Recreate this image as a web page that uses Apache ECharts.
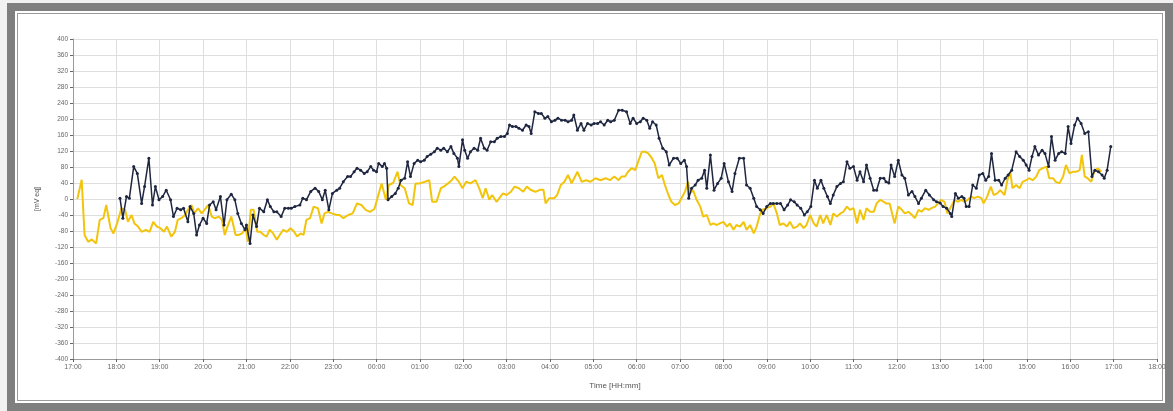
<!DOCTYPE html>
<html>
<head>
<meta charset="utf-8">
<script src="https://cdn.jsdelivr.net/npm/echarts@6/dist/echarts.min.js"></script>
<style>
  html, body { margin: 0; padding: 0; width: 1173px; height: 411px; overflow: hidden; background: #f1f1f1; }
  #frame { position: absolute; left: 7px; top: 3px; width: 1150px; height: 392px; border: 8px solid #7f7f7f; background: #fff; }
  #inner { position: absolute; left: 2px; top: 2px; right: 2px; bottom: 2px; border: 1px solid #9a9a9a; }
  #chart { position: absolute; left: 0; top: 0; width: 1173px; height: 411px; }
</style>
</head>
<body>
<div id="frame"><div id="inner"></div></div>
<div id="chart"></div>
<script>
// Time axis: minutes after 17:00 (day 1) up to 18:00 (day 2)
const xMin = 0, xMax = 1500, xStep = 60, startHour = 17;
const yMin = -400, yMax = 400, yStep = 40;
const xAxisName = 'Time [HH:mm]';
const yAxisName = '[mV eq]';

// Black (dark navy) series: minutes after 17:00, values
const blackT = [65,69,74,78,84,89,95,99,105,110,114,119,124,129,135,139,144,149,153,159,162,167,171,175,180,185,189,194,198,204,209,213,219,224,228,233,238,240,245,249,254,258,264,269,273,278,282,288,293,298,302,307,314,318,323,329,335,340,345,349,354,359,365,369,374,
  380,384,389,393,398,403,407,412,416,420,423,428,431,434,436,441,446,450,454,459,463,467,472,477,481,486,490,495,500,504,509,513,518,523,527,532,534,539,542,546,550,555,560,564,569,573,578,583,587,592,597,601,604,608,613,617,622,627,631,634,639,644,648,653,657,662,667,671,676,681,685,690,693,698,703,707,712,717,721,726,730,735,740,744,749,
  755,760,766,771,775,780,785,789,794,798,802,807,811,816,821,825,831,836,841,846,849,852,856,861,865,870,874,877,882,887,892,897,901,907,912,916,922,928,932,937,942,946,951,955,960,965,969,974,979,984,989,993,998,1002,1007,1012,1016,1021,1026,1030,1035,1039,1044,1048,1052,1057,1062,1066,1071,1075,1080,1085,1089,1094,1098,1103,1108,1112,1117,1122,
  1125,1129,1132,1137,1142,1147,1151,1156,1161,1165,1170,1174,1180,1185,1191,1195,1200,1204,1209,1214,1216,1221,1225,1230,1233,1236,1240,1245,1250,1254,1259,1263,1267,1271,1276,1281,1285,1290,1294,1299,1305,1310,1315,1319,1323,1327,1331,1336,1341,1345,1350,1354,1359,1364,1368,1373,1377,1381,1386,1390,1395,1400,1405,1410,1414,1419,1424,1427,1431,1436];
const blackV = [2,-48,6,2,81,64,-11,31,102,-15,31,-2,6,22,-2,-44,-23,-27,-23,-57,-19,-36,-90,-65,-48,-61,-15,-7,-27,6,-65,-2,12,-2,-36,-61,-77,-65,-111,-40,-69,-23,-32,-2,-19,-32,-32,-44,-23,-23,-23,-19,-15,2,-2,19,27,19,-2,22,-27,14,22,27,43,
  56,56,68,77,72,64,68,81,72,68,89,81,89,77,-2,6,14,27,47,52,93,56,89,97,93,97,106,112,118,127,122,127,118,131,114,102,81,148,122,102,118,127,122,152,127,122,143,143,152,156,156,164,185,181,181,177,172,185,181,164,218,214,214,202,206,193,197,202,197,197,193,197,210,172,189,172,189,185,189,189,193,185,197,193,197,
  222,222,218,189,202,189,193,202,197,177,193,185,152,127,118,85,102,102,89,97,81,2,27,35,47,52,72,27,110,22,39,52,89,43,19,64,102,102,35,27,2,-19,-27,-36,-19,-11,-11,-11,-11,-27,-15,-2,-7,-15,-23,-40,-32,-19,47,27,47,27,6,-11,10,31,39,43,93,77,81,47,68,43,85,52,22,22,52,52,
  43,40,85,56,97,60,52,10,19,6,-11,2,22,10,-2,-7,-10,-19,-23,-36,-44,14,2,6,2,-19,-19,35,27,60,64,47,56,114,47,47,35,52,60,72,118,106,97,85,72,106,131,110,122,114,81,156,97,114,118,114,181,139,185,202,189,164,168,56,72,68,60,52,72,131];

// Yellow series: minutes after 17:00, values
const yellowT = [6,12,16,21,26,32,37,42,46,52,56,61,67,72,76,81,85,90,95,101,106,111,116,121,126,130,136,141,145,150,155,159,164,168,173,178,182,187,192,196,202,206,210,213,219,225,229,234,239,242,246,250,255,259,264,268,272,277,282,286,291,296,301,306,310,315,319,323,328,333,339,344,348,353,358,365,369,374,
  381,387,393,399,405,411,417,421,427,433,437,443,449,453,459,465,470,474,480,487,493,497,503,509,513,519,524,528,534,539,544,550,557,562,567,571,576,580,586,590,595,600,606,611,617,623,628,633,640,646,651,654,659,666,670,675,680,685,690,698,704,710,716,723,730,737,743,749,
  755,759,764,768,773,778,782,787,792,796,801,805,810,815,819,824,828,833,838,842,847,851,854,858,863,868,872,877,882,886,891,895,900,905,909,914,918,923,928,932,937,942,946,951,954,960,965,969,974,978,983,988,992,997,1002,1006,1011,1015,1020,1025,1029,1034,1038,1043,1048,1052,1057,1062,1066,1071,1075,1080,1085,1089,1094,1098,1103,1108,1112,1117,1122,
  1125,1130,1134,1137,1142,1147,1151,1156,1161,1165,1170,1174,1179,1184,1188,1193,1197,1201,1206,1210,1215,1220,1224,1229,1233,1238,1243,1247,1252,1257,1260,1265,1270,1274,1279,1283,1289,1293,1297,1300,1305,1310,1314,1319,1323,1328,1333,1337,1342,1347,1351,1356,1360,1365,1370,1374,1379,1383,1388,1393,1396,1400,1404,1409,1413,1418,1423];
const yellowV = [0,48,-90,-107,-101,-111,-52,-48,-15,-73,-86,-61,-23,-27,-57,-40,-61,-69,-82,-77,-82,-57,-69,-73,-82,-69,-94,-82,-52,-48,-40,-27,-15,-36,-23,-36,-27,-15,-44,-48,-44,-52,-90,-73,-44,-90,-90,-86,-73,-107,-27,-27,-82,-82,-90,-94,-77,-86,-102,-90,-77,-82,-73,-82,-94,-86,-90,-52,-48,-19,-23,-61,-36,-32,-36,-40,-40,-48,
  -40,-36,-11,-15,-27,-32,-25,0,39,-2,35,40,68,35,27,-11,-15,39,39,43,47,-7,-7,27,31,39,47,56,43,27,43,39,47,27,2,27,-2,10,-7,2,14,10,18,31,27,18,31,23,18,23,23,-11,2,2,10,35,43,60,39,68,43,47,43,52,47,52,47,56,
  47,56,56,68,77,72,93,118,118,114,102,89,52,60,35,10,-7,-15,-11,2,19,43,14,22,-2,-19,-44,-40,-65,-61,-65,-61,-57,-69,-61,-77,-65,-69,-57,-77,-65,-86,-69,-36,-27,-23,-19,-11,-36,-65,-61,-69,-57,-73,-69,-61,-73,-65,-40,-61,-69,-40,-61,-40,-65,-36,-44,-36,-32,-19,-27,-23,-61,-27,-52,-23,-32,-32,-11,-2,-7,
  -11,-11,-40,-61,-19,-27,-36,-32,-40,-48,-27,-32,-23,-27,-23,-19,-11,-2,-7,-36,-19,-2,-7,-2,-7,-2,6,2,6,2,-11,6,31,10,14,22,10,47,68,27,35,27,43,47,52,47,56,72,77,81,52,52,43,39,56,85,64,68,68,72,110,56,52,43,68,77,68];

function pairs(t, v) { return t.map((m, i) => [m, v[i]]); }
function fmtTime(m) {
  const h = (startHour + Math.floor(m / 60)) % 24;
  const mm = m % 60;
  return String(h).padStart(2, '0') + ':' + String(mm).padStart(2, '0');
}

const chart = echarts.init(document.getElementById('chart'), null, { renderer: 'canvas' });
const labelColor = '#666';
chart.setOption({
  animation: false,
  backgroundColor: 'transparent',
  grid: { left: 73, right: 16, top: 39, bottom: 52, show: false },
  xAxis: {
    type: 'value', min: xMin, max: xMax, interval: xStep,
    name: xAxisName, nameLocation: 'middle', nameGap: 23,
    nameTextStyle: { fontSize: 8, color: '#555', fontFamily: 'Liberation Sans' },
    axisLine: { show: true, onZero: false, lineStyle: { color: '#9a9a9a', width: 1 } },
    axisTick: { show: true, length: 3, lineStyle: { color: '#666' } },
    axisLabel: { formatter: fmtTime, fontSize: 7, color: labelColor, margin: 5, fontFamily: 'Liberation Sans' },
    splitLine: { show: true, lineStyle: { color: '#dedede', width: 1 } }
  },
  yAxis: {
    type: 'value', min: yMin, max: yMax, interval: yStep,
    name: yAxisName, nameLocation: 'middle', nameGap: 32, nameRotate: 90,
    nameTextStyle: { fontSize: 7, color: '#555', fontFamily: 'Liberation Sans' },
    axisLine: { show: true, onZero: false, lineStyle: { color: '#9a9a9a', width: 1 } },
    axisTick: { show: true, length: 3, lineStyle: { color: '#666' } },
    axisLabel: { fontSize: 6.5, color: labelColor, margin: 5, fontFamily: 'Liberation Sans' },
    splitLine: { show: true, lineStyle: { color: '#dedede', width: 1 } }
  },
  series: [
    {
      type: 'line', data: pairs(yellowT, yellowV), showSymbol: false,
      lineStyle: { color: '#f2c40c', width: 2 }, itemStyle: { color: '#f2c40c' }, z: 2
    },
    {
      type: 'line', data: pairs(blackT, blackV), showSymbol: true, symbol: 'circle', symbolSize: 3,
      lineStyle: { color: '#1e2640', width: 1.5 }, itemStyle: { color: '#1e2640' }, z: 3
    }
  ]
});
</script>
</body>
</html>
